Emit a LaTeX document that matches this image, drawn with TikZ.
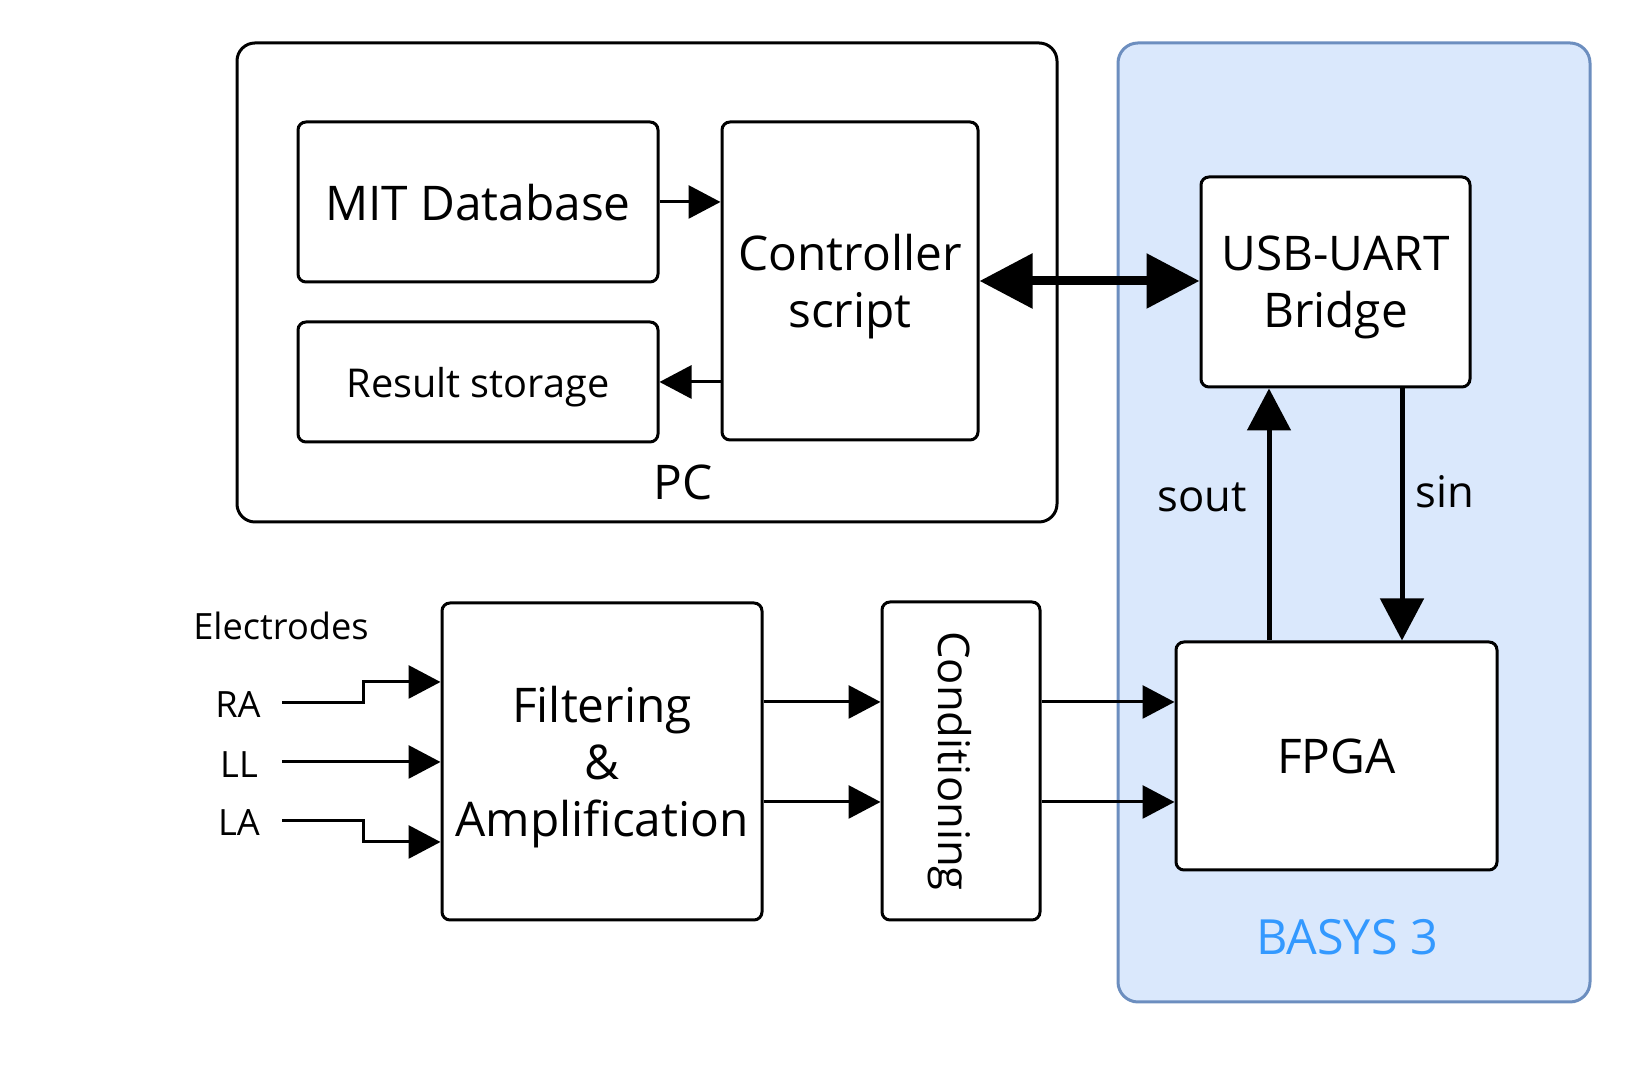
\documentclass[tikz,border=0pt]{standalone}
\usepackage{fontspec}
\setmainfont{Open Sans}
\usetikzlibrary{arrows.meta,positioning}
\definecolor{bleufond}{HTML}{DAE8FC}
\definecolor{bleubord}{HTML}{6C8EBF}
\definecolor{bleutexte}{HTML}{3399FF}
\newcommand{\bigtxt}{\fontsize{13.6}{16.2}\selectfont}
\newcommand{\midtxt}{\fontsize{12.4}{14.8}\selectfont}
\newcommand{\smalltxt}{\fontsize{11.3}{13.5}\selectfont}
\newcommand{\eltxt}{\fontsize{10.3}{12.3}\selectfont}
\tikzset{
  blk/.style={draw,rounded corners=.08cm,line width=.03cm,fill=white,align=center,inner sep=1pt,text depth=0pt,font=\bigtxt},
  link/.style={line width=.03cm,-{Triangle[length=.32cm,width=.33cm]}},
  biglink/.style={line width=.05cm,-{Triangle[length=.42cm,width=.43cm]}},
  duplex/.style={line width=.09cm,{Triangle[length=.53cm,width=.53cm]}-{Triangle[length=.53cm,width=.53cm]}}
}
\begin{document}
\begin{tikzpicture}
%%FOND
\path[fill=white] (0,0) rectangle (16.36,10.8);%%
%%CADRES
\filldraw[rounded corners=.2cm,line width=.03cm,fill=bleufond,draw=bleubord] (11.18,.78) rectangle (15.9,10.37);%%
\draw[rounded corners=.18cm,line width=.03cm] (2.37,5.58) rectangle (10.57,10.37);%%
\node[font=\bigtxt,anchor=base] (pclbl) at (6.83,5.8) {PC};%%
\node[font=\fontsize{13.8}{16.4}\selectfont,text=bleutexte,anchor=base] (basyslbl) at (13.47,1.25) {BASYS 3};%%
%%BLOCS
\node[blk,minimum width=3.6cm,minimum height=1.6cm] (mit) at (4.78,8.78) {MIT Database};%%
\node[blk,minimum width=3.6cm,minimum height=1.2cm,font=\smalltxt] (res) at (4.78,6.98) {Result storage};%%
\node[blk,minimum width=2.56cm,minimum height=3.18cm] (ctrl) at (8.5,7.99) {Controller\\script};%%
\node[blk,minimum width=2.69cm,minimum height=2.1cm] (usb) at (13.355,7.98) {USB-UART\\Bridge};%%
\node[blk,minimum width=3.21cm,minimum height=2.28cm] (fpga) at (13.365,3.24) {FPGA};%%
\node[blk,minimum width=3.2cm,minimum height=3.17cm] (filt) at (6.02,3.185) {Filtering\\\&\\Amplification};%%
\node[blk,minimum width=1.58cm,minimum height=3.18cm] (cond) at (9.61,3.19) {};%%
\node[font=\midtxt,rotate=-90] (condlbl) at ([xshift=-.11cm]cond.center) {Conditioning};%%
%%ELECTRODES
\node[font=\eltxt,anchor=base] (elec) at (2.81,4.4) {Electrodes};%%
\node[font=\eltxt,anchor=base] (ra) at (2.38,3.62) {RA};%%
\node[font=\eltxt,anchor=base] (ll) at (2.39,3.02) {LL};%%
\node[font=\eltxt,anchor=base] (la) at (2.39,2.44) {LA};%%
\coordinate (raS) at (2.82,3.77);%%
\coordinate (llS) at (2.82,3.18);%%
\coordinate (laS) at (2.82,2.59);%%
%%FLECHES
\draw[link] (raS) -- ++(.81,0) |- ([yshift=.795cm]filt.west);%%
\draw[link] (llS) -- (llS -| filt.west);%%
\draw[link] (laS) -- ++(.81,0) |- ([yshift=-.805cm]filt.west);%%
\foreach \dy/\n in {.595/a,-.405/b} {%%
  \coordinate (fc\n) at ([yshift=\dy cm]filt.east);
  \draw[link] (fc\n) -- (fc\n -| cond.west);
  \draw[link] (fc\n -| cond.east) -- (fc\n -| fpga.west);
}
\draw[link] (mit.east) -- (mit.east -| ctrl.west);%%
\draw[link] (res.east -| ctrl.west) -- (res.east);%%
\draw[duplex] (ctrl.east) -- (ctrl.east -| usb.west);%%
\coordinate (so) at ([xshift=-.675cm]fpga.north);%%
\coordinate (si) at ([xshift=.655cm]fpga.north);%%
\draw[biglink] (so) -- (so |- usb.south);%%
\draw[biglink] (si |- usb.south) -- (si);%%
\node[font=\midtxt,anchor=base] (soutlbl) at (12.02,5.68) {sout};%%
\node[font=\midtxt,anchor=base] (sinlbl) at (14.45,5.72) {sin};%%
\end{tikzpicture}
\end{document}
